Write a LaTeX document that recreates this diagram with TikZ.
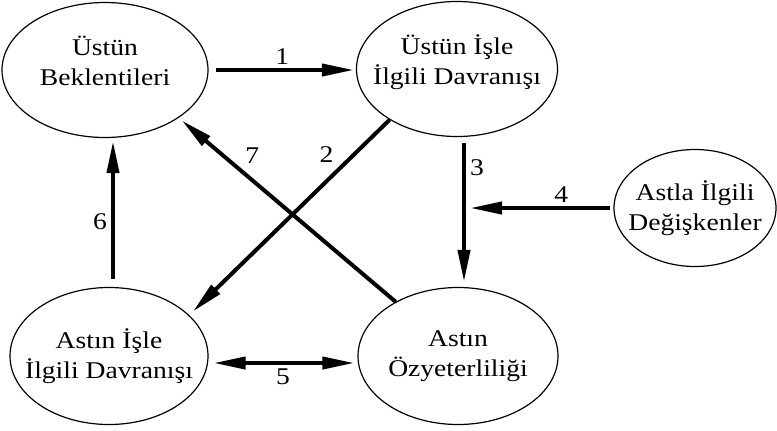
\documentclass[tikz,border=0pt]{standalone}
\usepackage{fontspec}
\setmainfont[FakeStretch=1.15]{Liberation Serif}
\usetikzlibrary{shapes,arrows.meta,positioning}

\begin{document}
\begin{tikzpicture}[
    x=0.5pt, y=-0.5pt,
    oval/.style={ellipse, draw, line width=0.6pt, inner sep=0pt},
    txt/.style={align=center, font=\fontsize{12}{15}\selectfont},
    num/.style={font=\fontsize{12}{15}\selectfont, inner sep=2pt},
    arrow/.style={-{Triangle[length=16pt,width=6pt]}, line width=2pt},
    twoway/.style={{Triangle[length=16pt,width=6pt]}-{Triangle[length=16pt,width=6pt]}, line width=2pt}
]
\useasboundingbox (0,0) rectangle (777,430);

% Nodes
\node[oval, minimum width=103pt, minimum height=67.5pt,
      label={[txt, yshift=4.5pt]center:Üstün\\Beklentileri}] (ube) at (105,70) {};
\node[oval, minimum width=100.5pt, minimum height=67.5pt,
      label={[txt, yshift=3.5pt]center:Üstün İşle\\İlgili Davranışı}] (uid) at (457,69) {};
\node[oval, minimum width=81pt, minimum height=58.5pt,
      label={[txt]center:Astla İlgili\\Değişkenler}] (aid) at (695,208) {};
\node[oval, minimum width=99pt, minimum height=68.5pt,
      label={[txt]center:Astın İşle\\İlgili Davranışı}] (aisd) at (109,356) {};
\node[oval, minimum width=100pt, minimum height=68.5pt,
      label={[txt]center:Astın\\Özyeterliliği}] (aoz) at (458,356) {};
\coordinate (m4) at (470,208);

% Arrows
\draw[arrow, shorten <=3.5pt, shorten >=1pt] (ube.east) -- (ube.east -| uid.west)
    node[num, midway, above] (l1) {1};
\draw[arrow, shorten >=2.5pt] (uid.217) -- (aisd.27)
    node[num, pos=0.25, above left] (l2) {2};
\draw[arrow, shorten <=3pt, shorten >=2.5pt] ([xshift=3.5pt]uid.south) -- ([xshift=3pt]aoz.north)
    node[num, pos=0.205, right] (l3) {3};
\draw[arrow, shorten <=1.5pt] (aid.west) -- (m4)
    node[num, pos=0.364, above] (l4) {4};
\draw[twoway, shorten <=2.5pt, shorten >=1.5pt] ([yshift=-3.5pt]aisd.east) -- ([yshift=-3.5pt]aoz.west)
    node[num, midway, below] (l5) {5};
\draw[arrow, shorten <=4pt, shorten >=1.5pt] ([xshift=2pt]aisd.north) -- ([xshift=4pt]ube.south)
    node[num, pos=0.437, left] (l6) {6};
\draw[arrow, shorten >=2pt] (aoz.139) -- (ube.-33)
    node[num, pos=0.72, above right] (l7) {7};
\end{tikzpicture}
\end{document}
